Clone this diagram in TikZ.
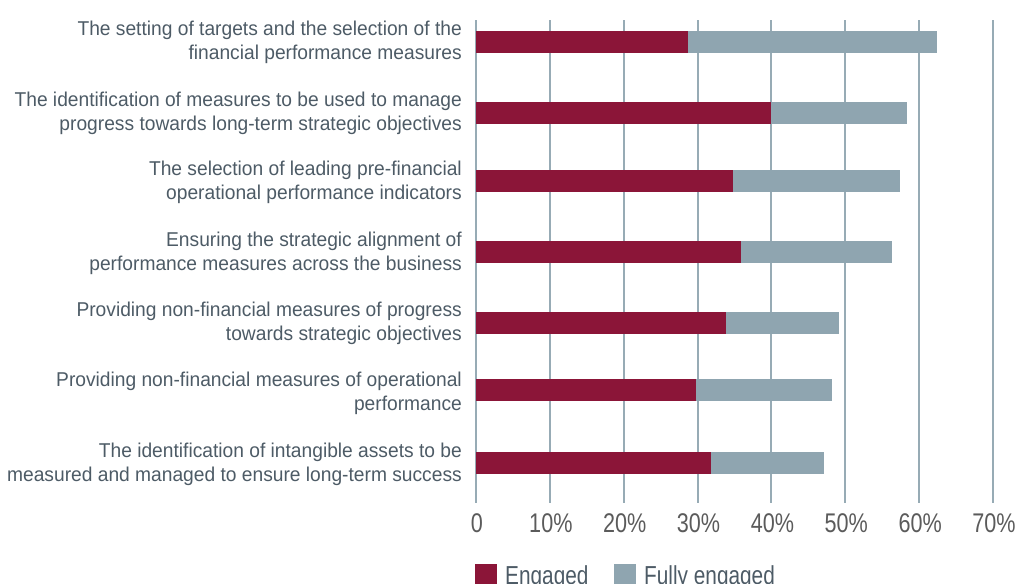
\documentclass[tikz,border=0pt]{standalone}
\usepackage{fontspec}
\setmainfont{Liberation Sans}
\newfontfamily\rowfont[FakeStretch=0.96]{Liberation Sans}
\newfontfamily\numfont[FakeStretch=0.8]{Liberation Sans}
\usetikzlibrary{positioning}
\definecolor{engagedred}{HTML}{8B1538}
\definecolor{fullygray}{HTML}{8FA5B0}
\definecolor{gridgray}{HTML}{97ABB5}
\definecolor{labelslate}{HTML}{4D5B66}
\definecolor{numgray}{HTML}{5B5B5B}
\tikzset{
gridline/.style={draw=gridgray, line width=2pt},
engaged/.style={fill=engagedred},
fullyengaged/.style={fill=fullygray},
rowlabel/.style={anchor=east, align=right, inner sep=0pt, text=labelslate, font=\rowfont\fontsize{20}{24}\selectfont},
axislabel/.style={anchor=base, inner sep=0pt, text=numgray, font=\numfont\fontsize{27}{30}\selectfont},
keybox/.style={draw=none, minimum size=22pt, inner sep=0pt},
keytext/.style={anchor=base west, inner sep=0pt, text=labelslate, font=\numfont\fontsize{26}{30}\selectfont},
}
\begin{document}
\begin{tikzpicture}[x=1pt, y=-1pt]
    \useasboundingbox (0,0) rectangle (1018,584);

    %grid and axis
    \foreach \i/\t in {0/0, 1/10\%, 2/20\%, 3/30\%, 4/40\%, 5/50\%, 6/60\%, 7/70\%} {
        \draw[gridline] (476+73.86*\i,20) -- (476+73.86*\i,503);
        \node[axislabel] (tick\i) at (477+73.86*\i,532.7) {\t};
    }

    %bars
    \foreach \y/\e/\f in {42/28.7/62.4, 113/39.9/58.3, 181/34.8/57.4, 252/35.9/56.3, 323/33.8/49.1, 390/29.8/48.2, 463/31.8/47.1} {
        \fill[fullyengaged] (476,\y-11) rectangle (476+7.386*\f,\y+11);
        \fill[engaged] (476,\y-11) rectangle (476+7.386*\e,\y+11);
    }

    %lables
    \node[rowlabel] (row1) at (462,42) {The setting of targets and the selection of the\\financial performance measures};
    \node[rowlabel] (row2) at (462,113) {The identification of measures to be used to manage\\progress towards long-term strategic objectives};
    \node[rowlabel] (row3) at (462,182) {The selection of leading pre-financial\\operational performance indicators};
    \node[rowlabel] (row4) at (462,253) {Ensuring the strategic alignment of\\performance measures across the business};
    \node[rowlabel] (row5) at (462,323) {Providing non-financial measures of progress\\towards strategic objectives};
    \node[rowlabel] (row6) at (462,393) {Providing non-financial measures of operational\\performance};
    \node[rowlabel] (row7) at (462,464) {The identification of intangible assets to be\\measured and managed to ensure long-term success};

    %legend
    \node[keybox, engaged] (keyE) at (486,575) {};
    \node[keytext] (keyEtext) at (505,584) {Engaged};
    \node[keybox, fullyengaged] (keyF) at (625,575) {};
    \node[keytext] (keyFtext) at (644,584) {Fully engaged};
\end{tikzpicture}
\end{document}
